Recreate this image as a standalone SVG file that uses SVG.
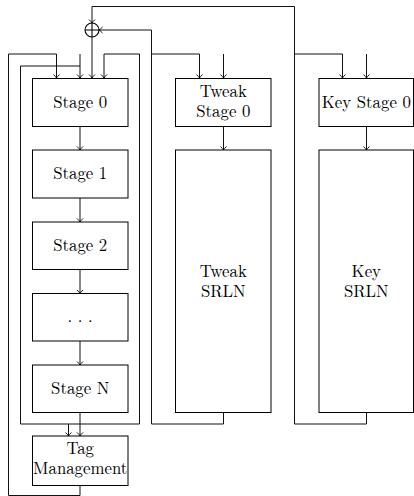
<svg xmlns="http://www.w3.org/2000/svg" width="414" height="496" viewBox="0 0 414 496">
<defs>
<marker id="arr" viewBox="-5 -4 6 8" markerWidth="6" markerHeight="8" refX="0" refY="0" orient="auto" markerUnits="userSpaceOnUse">
<path d="M-3.5,-3 Q-1.2,-0.6 0,0 Q-1.2,0.6 -3.5,3" fill="none" stroke="#000" stroke-width="0.9"/>
</marker>
<style>
.box{fill:#fff;stroke:#000;stroke-width:1}
.t{font-family:Latin Modern Roman, Liberation Serif, serif;font-size:16.8px;fill:#000;text-anchor:middle}
.c{fill:none;stroke:#111;stroke-width:1}
.a{marker-end:url(#arr)}
</style>
</defs>
<rect width="414" height="496" fill="#fff"/>
<g id="connectors">
<path class="c a" d="M80,485.5 V495.5 H8.5 V54 H56.5 V78"/>
<path class="c" d="M20.5,424 H139.5"/>
<path class="c" d="M20.5,424 V66 H80"/>
<path class="c a" d="M139.5,424 V54 H104 V78"/>
<path class="c a" d="M68.5,424 V436"/>
<path class="c a" d="M80,54 V78"/>
<path class="c a" d="M92,37 V78"/>
<path class="c a" d="M366.5,412.5 V424 H294.5 V6.5 H92 V23"/>
<path class="c a" d="M294.5,54 H342.5 V78"/>
<path class="c a" d="M223.5,412.5 V424 H151.5 V30 H99"/>
<path class="c a" d="M151.5,54 H199.5 V78"/>
<path class="c a" d="M223.5,54 V78"/>
<path class="c a" d="M366.5,54 V78"/>
<path class="c a" d="M80,126.5 V150"/>
<path class="c a" d="M80,198 V222"/>
<path class="c a" d="M80,269.5 V293.5"/>
<path class="c a" d="M80,341 V365"/>
<path class="c a" d="M80,412.5 V436"/>
<path class="c a" d="M223.5,126.5 V150"/>
<path class="c a" d="M366.5,126.5 V150"/>
</g>
<g id="xor">
<circle cx="92" cy="30" r="7" fill="#fff" stroke="#000" stroke-width="1.1"/>
<path d="M85,30 H99 M92,23 V37" stroke="#000" stroke-width="1.1" fill="none"/>
</g>
<g id="stage0"><rect class="box" x="32.5" y="78.5" width="95.5" height="48"/><text class="t" font-family="Latin Modern Roman" x="80.2" y="107.8">Stage 0</text></g>
<g id="stage1"><rect class="box" x="32.5" y="150" width="95.5" height="48"/><text class="t" font-family="Latin Modern Roman" x="80.2" y="179.3">Stage 1</text></g>
<g id="stage2"><rect class="box" x="32.5" y="222" width="95.5" height="47.5"/><text class="t" font-family="Latin Modern Roman" x="80.2" y="251">Stage 2</text></g>
<g id="stagedots"><rect class="box" x="32.5" y="293.5" width="95.5" height="47.5"/><text class="t" font-family="Latin Modern Roman" x="80.2" y="322">. . .</text></g>
<g id="stageN"><rect class="box" x="32.5" y="365" width="95.5" height="47.5"/><text class="t" font-family="Latin Modern Roman" x="80.2" y="394">Stage N</text></g>
<g id="tag"><rect class="box" x="32.5" y="436" width="95.5" height="49.5"/><text class="t" font-family="Latin Modern Roman" x="80.2" y="454">Tag</text><text class="t" font-family="Latin Modern Roman" x="80.2" y="474">Management</text></g>
<g id="tweakstage0"><rect class="box" x="175.5" y="78.5" width="95.5" height="48"/><text class="t" font-family="Latin Modern Roman" x="223.3" y="97">Tweak</text><text class="t" font-family="Latin Modern Roman" x="223.3" y="117">Stage 0</text></g>
<g id="tweaksrln"><rect class="box" x="175.5" y="150" width="95.5" height="262.5"/><text class="t" font-family="Latin Modern Roman" x="223.3" y="276.5">Tweak</text><text class="t" font-family="Latin Modern Roman" x="223.3" y="296.5">SRLN</text></g>
<g id="keystage0"><rect class="box" x="319" y="78.5" width="94.5" height="48"/><text class="t" font-family="Latin Modern Roman" x="366.3" y="107.8">Key Stage 0</text></g>
<g id="keysrln"><rect class="box" x="319" y="150" width="94.5" height="262.5"/><text class="t" font-family="Latin Modern Roman" x="366.3" y="276.5">Key</text><text class="t" font-family="Latin Modern Roman" x="366.3" y="296.5">SRLN</text></g>
</svg>
